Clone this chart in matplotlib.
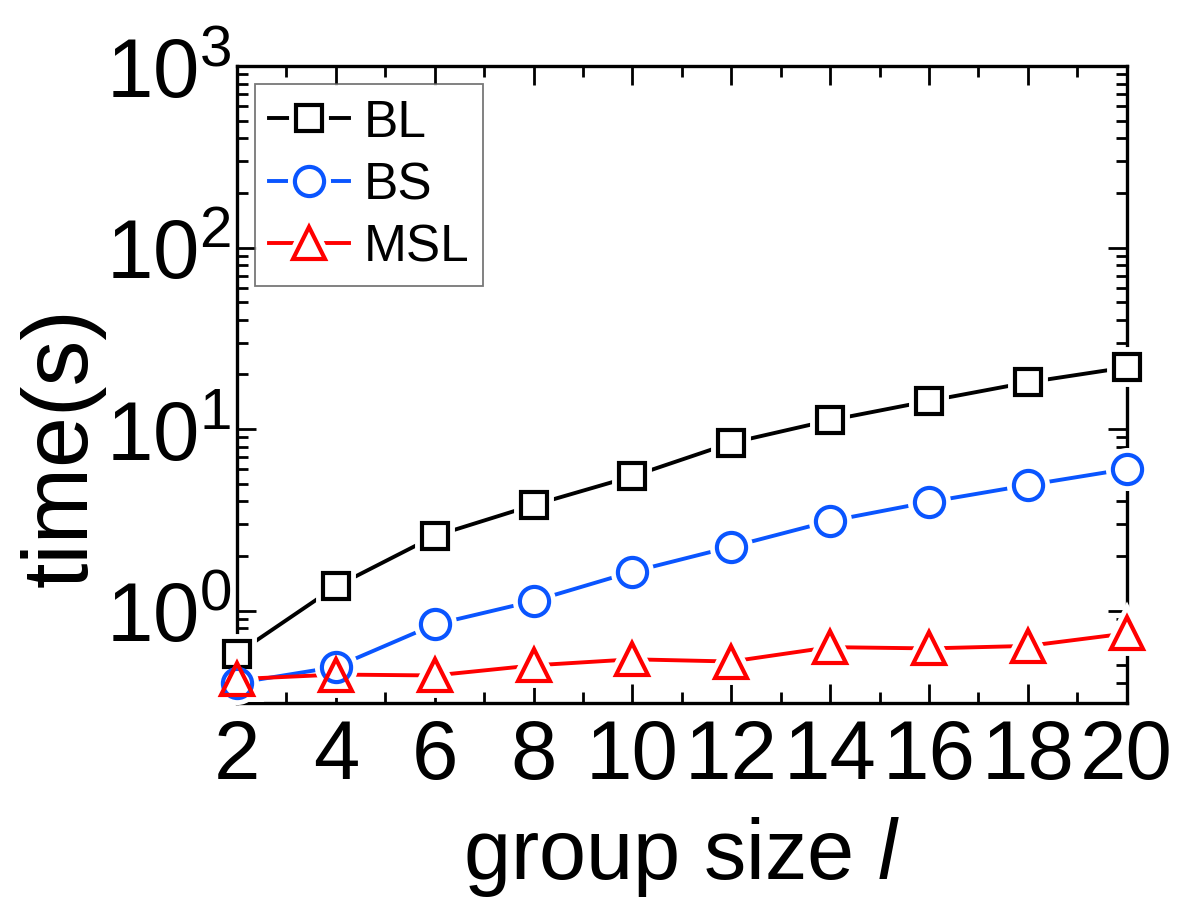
import numpy as np
import matplotlib.pyplot as plt
from matplotlib.ticker import MultipleLocator, LogLocator, NullFormatter

plt.rcParams['font.family'] = 'Liberation Sans'
plt.rcParams['mathtext.fontset'] = 'custom'
plt.rcParams['mathtext.rm'] = 'Liberation Sans'
plt.rcParams['mathtext.it'] = 'Liberation Sans:italic'

group_size = [2, 4, 6, 8, 10, 12, 14, 16, 18, 20]
bl = [0.58, 1.36, 2.58, 3.82, 5.5, 8.4, 11.2, 14.3, 18.1, 21.9]
bs = [0.40, 0.49, 0.84, 1.13, 1.64, 2.25, 3.12, 3.97, 4.92, 6.03]
msl = [0.42, 0.445, 0.44, 0.50, 0.54, 0.525, 0.63, 0.62, 0.64, 0.75]

series = [
    ('BL', bl, 'black', 's', 19),
    ('BS', bs, '#0a55ff', 'o', 21),
    ('MSL', msl, '#ff0000', '^', 23),
]

fig = plt.figure(figsize=(11.81, 9.12), dpi=100)
ax = fig.add_axes([0.2007, 0.228, 0.7533, 0.6985])

lw = 2.8
mew = 3.0
handles = []
for name, vals, col, mk, ms in series:
    ln, = ax.plot(group_size, vals, color=col, lw=lw, clip_on=False, zorder=2)
    # white halo gives the gap between line and marker
    halo, = ax.plot(group_size, vals, ls='none', marker=mk, ms=ms, mfc='white',
                    mec='white', mew=mew + 7, clip_on=False, zorder=3)
    mkr, = ax.plot(group_size, vals, ls='none', marker=mk, ms=ms, mfc='none',
                   mec=col, mew=mew, clip_on=False, zorder=4)
    handles.append((ln, halo, mkr))

ax.set_yscale('log')
ax.set_ylim(0.31, 1000)
ax.set_xlim(2, 20)
ax.xaxis.set_major_locator(MultipleLocator(2))
ax.xaxis.set_minor_locator(MultipleLocator(1))
ax.yaxis.set_major_locator(LogLocator(base=10, numticks=10))
ax.yaxis.set_minor_locator(LogLocator(base=10, subs=np.arange(2, 10), numticks=20))
ax.yaxis.set_minor_formatter(NullFormatter())

for s in ax.spines.values():
    s.set_linewidth(2.4)
ax.tick_params(which='both', direction='in', top=True, right=True, width=2)
ax.tick_params(which='major', length=14, labelsize=60)
ax.tick_params(axis='y', which='major', pad=4)
ax.tick_params(axis='x', which='major', pad=10)
ax.tick_params(which='minor', length=8)

ax.set_xlabel('group size $\\mathit{l}$', fontsize=61, labelpad=14)
ax.set_ylabel('time(s)', fontsize=66)
ax.yaxis.set_label_coords(-0.148, 0.403)

leg = ax.legend(handles, [s[0] for s in series], loc='upper left', fontsize=37,
                frameon=True, fancybox=False, edgecolor='#555555',
                handlelength=1.55, handletextpad=0.28, borderpad=0.28,
                labelspacing=0.26, borderaxespad=0,
                bbox_to_anchor=(0.02, 0.972))
leg.get_frame().set_linewidth(1.3)

fig.savefig('out.png', dpi=100)
